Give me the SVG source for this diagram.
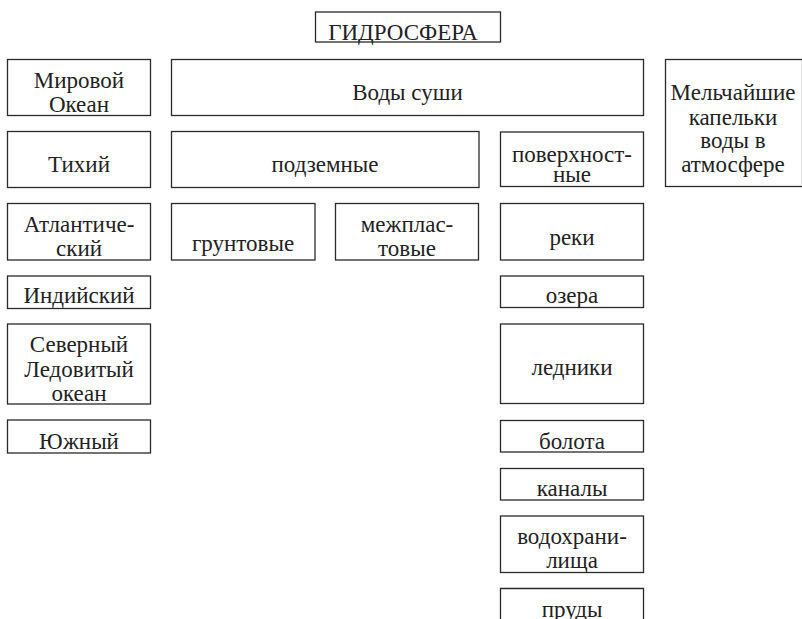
<svg xmlns="http://www.w3.org/2000/svg" width="802" height="619" viewBox="0 0 802 619">
<style>
rect, path.box { fill: none; stroke: #2a2a2a; stroke-width: 1.3; }
text { font-family: 'Liberation Serif', 'DejaVu Serif', 'Times New Roman', serif; font-size: 23px; fill: #222; text-anchor: middle; }
</style>
<rect x="0" y="0" width="802" height="619" fill="#fff" style="stroke:none"/>
<g id="hydrosphere"><rect x="315.5" y="12" width="185" height="30"/><text x="403" y="40">ГИДРОСФЕРА</text></g>
<g id="world-ocean"><rect x="7.5" y="59.5" width="143" height="56"/><text x="79" y="88">Мировой</text><text x="79" y="112">Океан</text></g>
<g id="land-waters"><rect x="171.5" y="59.5" width="472" height="56"/><text x="407.5" y="100">Воды суши</text></g>
<g id="atmosphere"><rect x="665.5" y="59.5" width="137" height="127"/><text x="733" y="100">Мельчайшие</text><text x="733" y="125">капельки</text><text x="733" y="148">воды в</text><text x="733" y="172">атмосфере</text></g>
<g id="pacific"><rect x="7.5" y="131.5" width="143" height="56"/><text x="79" y="172">Тихий</text></g>
<g id="underground"><rect x="171.5" y="131.5" width="307.5" height="56"/><text x="325" y="172">подземные</text></g>
<g id="surface"><rect x="500.5" y="132" width="143" height="54.5"/><text x="572" y="162">поверхност-</text><text x="572" y="182">ные</text></g>
<g id="atlantic"><rect x="7.5" y="203.5" width="143" height="56.5"/><text x="79" y="232">Атлантиче-</text><text x="79" y="256">ский</text></g>
<g id="ground"><rect x="171.5" y="203.5" width="143.5" height="56.5"/><text x="243" y="251">грунтовые</text></g>
<g id="interlayer"><rect x="335.5" y="203.5" width="143" height="56.5"/><text x="407" y="232">межплас-</text><text x="407" y="256">товые</text></g>
<g id="rivers"><rect x="500.5" y="203.5" width="143" height="56.5"/><text x="572" y="245">реки</text></g>
<g id="indian"><rect x="7.5" y="276" width="143" height="32.5"/><text x="79" y="303">Индийский</text></g>
<g id="lakes"><rect x="500.5" y="276" width="143" height="31.5"/><text x="572" y="303">озера</text></g>
<g id="arctic"><rect x="7.5" y="324" width="143" height="80"/><text x="79" y="352">Северный</text><text x="79" y="377">Ледовитый</text><text x="79" y="401">океан</text></g>
<g id="glaciers"><rect x="500.5" y="324" width="143" height="79.5"/><text x="572" y="375">ледники</text></g>
<g id="southern"><rect x="7.5" y="420" width="143" height="33"/><text x="79" y="449">Южный</text></g>
<g id="swamps"><rect x="500.5" y="420.5" width="143" height="31.5"/><text x="572" y="449">болота</text></g>
<g id="canals"><rect x="500.5" y="468.5" width="143" height="31.5"/><text x="572" y="496">каналы</text></g>
<g id="reservoirs"><rect x="500.5" y="516" width="143" height="56.5"/><text x="572" y="544">водохрани-</text><text x="572" y="568">лища</text></g>
<g id="ponds"><path class="box" d="M500.5,620 V588.5 H643.5 V620"/><text x="572" y="617">пруды</text></g>
<g id="connectors"></g>
</svg>
